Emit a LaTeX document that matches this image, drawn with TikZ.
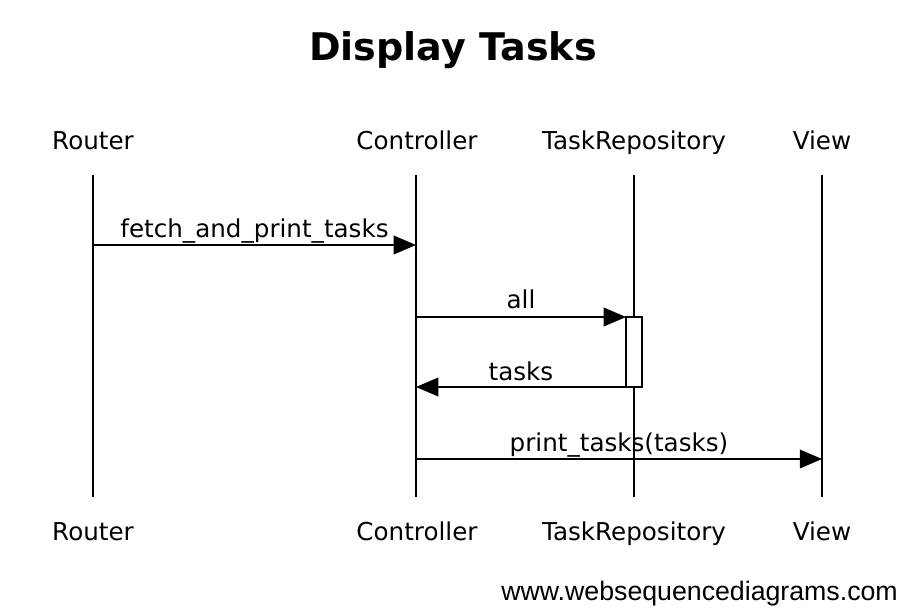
\documentclass[tikz,border=0pt]{standalone}
\usepackage{fontspec}
\setmainfont{DejaVu Sans}
\newfontfamily\wmfont{Liberation Sans}
\usetikzlibrary{arrows.meta}

\tikzset{
  actor/.style={font=\fontsize{21}{25}\selectfont, inner sep=0pt, anchor=base},
  msglabel/.style={font=\fontsize{21}{25}\selectfont, inner sep=0pt, anchor=base},
  lifeline/.style={line width=1pt},
  msg/.style={line width=1pt, -{Triangle[length=19pt,width=16pt]}},
}

\begin{document}
\begin{tikzpicture}[x=0.03cm, y=-0.03cm]
\useasboundingbox (0,0) rectangle (900,607);

% title
\node[font=\fontsize{32.5}{36}\selectfont\bfseries, inner sep=0pt, anchor=base] (title) at (453,60) {Display Tasks};

% participants, top and bottom
\node[actor] (router-top) at (93,149) {Router};
\node[actor] (ctrl-top) at (417,149) {Controller};
\node[actor] (repo-top) at (634,149) {TaskRepository};
\node[actor] (view-top) at (822,149) {View};

\node[actor] (router-bot) at (93,540) {Router};
\node[actor] (ctrl-bot) at (417,540) {Controller};
\node[actor] (repo-bot) at (634,540) {TaskRepository};
\node[actor] (view-bot) at (822,540) {View};

% lifelines
\coordinate (router-a) at (93,175);  \coordinate (router-b) at (93,497);
\coordinate (ctrl-a) at (416,175);   \coordinate (ctrl-b) at (416,497);
\coordinate (repo-a) at (634,175);   \coordinate (repo-b) at (634,497);
\coordinate (view-a) at (822,175);   \coordinate (view-b) at (822,497);
\draw[lifeline] (router-a) -- (router-b);
\draw[lifeline] (ctrl-a) -- (ctrl-b);
\draw[lifeline] (repo-a) -- (repo-b);
\draw[lifeline] (view-a) -- (view-b);

% activation of TaskRepository
\draw[lifeline, fill=white] (626,317) rectangle (642,387);
\coordinate (act-in) at (626,317);
\coordinate (act-out) at (626,387);

% messages
\coordinate (m1-from) at (93,245);  \coordinate (m1-to) at (416,245);
\draw[msg] (m1-from) -- (m1-to);
\node[msglabel] (m1) at (254.5,237) {fetch\_and\_print\_tasks};

\coordinate (m2-from) at (416,317);
\draw[msg] (m2-from) -- (act-in);
\node[msglabel] (m2) at (521,308) {all};

\coordinate (m3-to) at (416,387);
\draw[msg] (act-out) -- (m3-to);
\node[msglabel] (m3) at (521,380) {tasks};

\coordinate (m4-from) at (416,459);  \coordinate (m4-to) at (822,459);
\draw[msg] (m4-from) -- (m4-to);
\node[msglabel] (m4) at (619,451) {print\_tasks(tasks)};

% watermark
\node[font=\wmfont\fontsize{22.8}{26}\selectfont, inner sep=0pt, anchor=base east] (wm) at (898,600) {www.websequencediagrams.com};
\end{tikzpicture}
\end{document}
